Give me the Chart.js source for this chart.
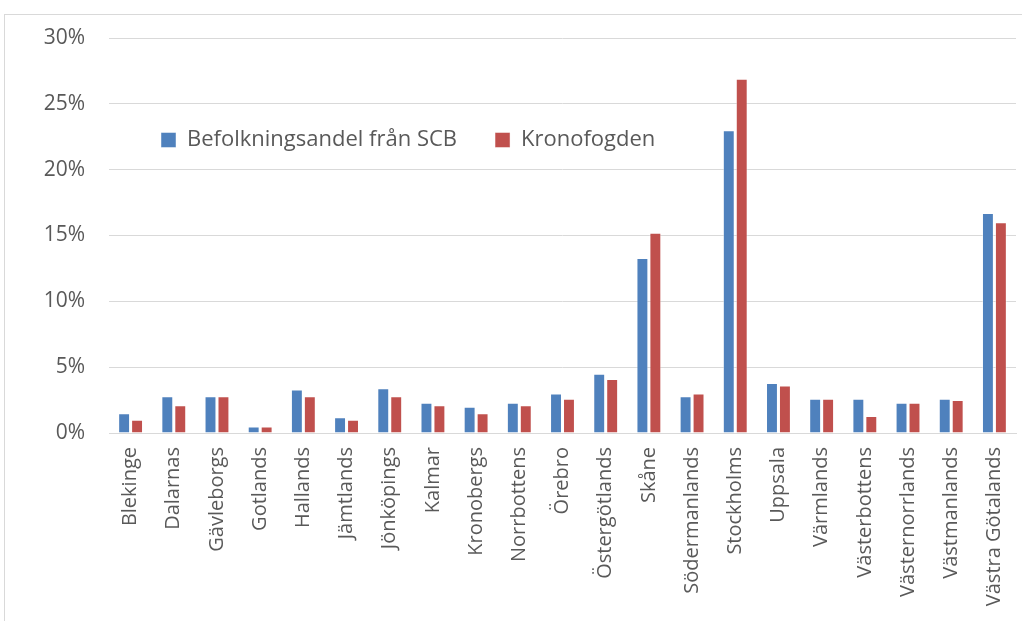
<!DOCTYPE html>
<html lang="sv">
<head>
  <meta charset="UTF-8">
  <title>Befolkningsandel och Kronofogden per län</title>
  <style>
    body {
      margin: 0;
      padding: 0;
      background-color: #fff;
      overflow: hidden;
    }
    .frame {
      position: absolute;
      left: 4px;
      top: 14px;
      width: 1030px;
      height: 640px;
      border: 1px solid #d9d9d9;
    }
  </style>
  <script src="https://cdn.jsdelivr.net/npm/chart.js"></script>
</head>
<body>
  <div class="frame">
    <canvas id="lanChart" width="1030" height="640"></canvas>
  </div>
  <script>
    // data lasta av fran bilden
    var lan = ['Blekinge', 'Dalarnas', 'Gävleborgs', 'Gotlands', 'Hallands', 'Jämtlands',
      'Jönköpings', 'Kalmar', 'Kronobergs', 'Norrbottens', 'Örebro', 'Östergötlands',
      'Skåne', 'Södermanlands', 'Stockholms', 'Uppsala', 'Värmlands', 'Västerbottens',
      'Västernorrlands', 'Västmanlands', 'Västra Götalands'];
    var befolkning = [1.5, 2.8, 2.8, 0.5, 3.3, 1.2, 3.4, 2.3, 2.0, 2.3, 3.0, 4.5,
      13.3, 2.8, 23.0, 3.8, 2.6, 2.6, 2.3, 2.6, 16.7];
    var kronofogden = [1.0, 2.1, 2.8, 0.5, 2.8, 1.0, 2.8, 2.1, 1.5, 2.1, 2.6, 4.1,
      15.2, 3.0, 26.9, 3.6, 2.6, 1.3, 2.3, 2.5, 16.0];
    var yTicks = [0, 5, 10, 15, 20, 25, 30];

    var textColor = '#595959';
    var gridColor = '#d9d9d9';
    var fontFamily = '"Open Sans", Lato, sans-serif';

    // legenden ska ligga inne i diagrammet, inte ta plats ovanfor
    var legendInside = {
      id: 'legendInside',
      beforeLayout: function(chart) {
        var lg = chart.legend;
        if (lg && !lg._insidePatched) {
          var fit = lg.fit;
          lg.fit = function() { fit.call(this); this.height = 0; };
          lg._insidePatched = true;
        }
      },
      afterLayout: function(chart) {
        var lg = chart.legend;
        if (lg) {
          lg.left += 118;
          lg.top += 53;
          lg.right = chart.width;
          lg.height = 80;
          lg.bottom = lg.top + lg.height;
        }
      }
    };

    var ctx = document.getElementById('lanChart').getContext('2d');
    var chart = new Chart(ctx, {
      type: 'bar',
      data: {
        labels: lan,
        datasets: [{
          label: 'Befolkningsandel från SCB',
          data: befolkning,
          backgroundColor: '#4f81bd',
          borderColor: 'rgba(255,255,255,0.45)',
          borderWidth: 1,
          categoryPercentage: 0.6,
          barPercentage: 0.92
        }, {
          label: 'Kronofogden',
          data: kronofogden,
          backgroundColor: '#c0504d',
          borderColor: 'rgba(255,255,255,0.45)',
          borderWidth: 1,
          categoryPercentage: 0.6,
          barPercentage: 0.92
        }]
      },
      options: {
        responsive: false,
        animation: false,
        layout: {
          padding: { top: 23, left: 0, right: 19, bottom: 0 }
        },
        plugins: {
          legend: {
            position: 'top',
            align: 'start',
            labels: {
              color: textColor,
              font: { family: fontFamily, size: 22 },
              boxWidth: 15,
              boxHeight: 15,
              padding: 38
            }
          },
          tooltip: { enabled: false }
        },
        scales: {
          x: {
            grid: { display: false },
            border: { display: true, color: gridColor },
            ticks: {
              color: textColor,
              font: { family: fontFamily, size: 20 },
              minRotation: 90,
              maxRotation: 90,
              autoSkip: false,
              padding: 6
            },
            afterFit: function(scale) { scale.height = 222; }
          },
          y: {
            min: 0,
            max: 30,
            afterBuildTicks: function(scale) {
              scale.ticks = yTicks.map(function(v) { return { value: v }; });
            },
            grid: {
              color: gridColor,
              drawTicks: true,
              tickLength: 16,
              tickColor: 'rgba(0,0,0,0)'
            },
            border: { display: false },
            ticks: {
              color: textColor,
              font: { family: fontFamily, size: 21 },
              padding: 8,
              callback: function(v) { return v + '%'; }
            },
            afterFit: function(scale) { scale.width = 104; }
          }
        }
      },
      plugins: [legendInside]
    });
  </script>
</body>
</html>
